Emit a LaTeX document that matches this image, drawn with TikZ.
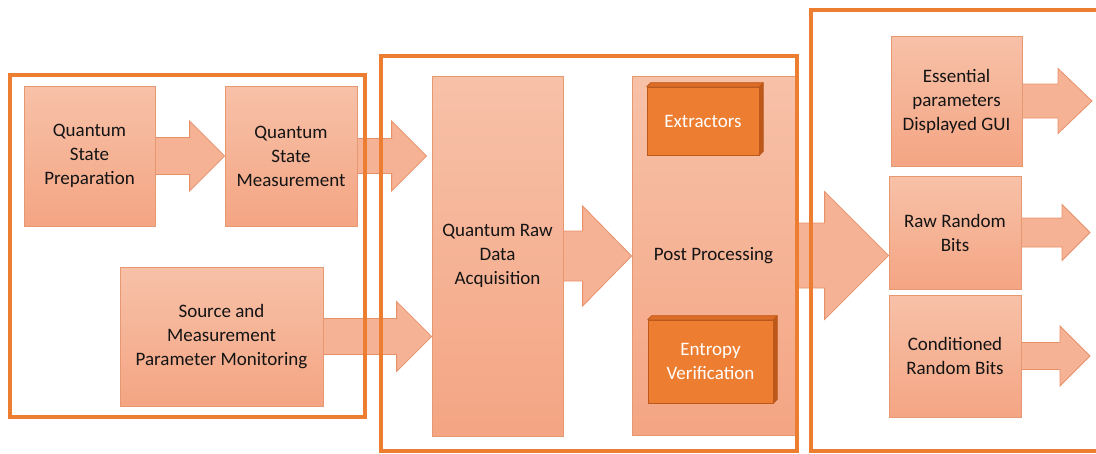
\documentclass[tikz,border=0pt]{standalone}
\usepackage{fontspec}
\setmainfont{Carlito}
\usetikzlibrary{calc}
\definecolor{frameor}{RGB}{237,125,49}
\definecolor{boxtop}{RGB}{247,193,168}
\definecolor{boxbot}{RGB}{244,165,131}
\definecolor{boxline}{RGB}{229,152,114}
\definecolor{arrfill}{RGB}{245,178,148}
\definecolor{arrline}{RGB}{232,145,105}
\definecolor{darkfront}{RGB}{237,125,49}
\definecolor{darktop}{RGB}{222,108,36}
\definecolor{darkside}{RGB}{188,88,26}
\definecolor{txt}{RGB}{20,20,20}
\pgfdeclarelayer{bg}
\pgfsetlayers{bg,main}
\tikzset{
  box/.style={draw=boxline, line width=0.8pt, top color=boxtop, bottom color=boxbot,
    inner sep=0pt, align=center, text=txt, font=\fontsize{19}{24}\selectfont},
  darkbox/.style={fill=darkfront, draw=darkside, line width=0.6pt, inner sep=0pt,
    align=center, text=white, font=\fontsize{19}{24}\selectfont},
  darkface/.style={fill=#1, draw=darkside, line width=0.6pt, line join=round},
  frame/.style={draw=frameor, line width=4pt},
  fat/.style n args={3}{draw=arrline, fill=arrfill, line width=0.8pt, line join=miter,
    to path={let \p1=(\tikztostart), \p2=(\tikztotarget) in
      (\x1,\y1+#1) -- (\x2-#3,\y1+#1) -- (\x2-#3,\y1+#2) -- (\x2,\y1)
      -- (\x2-#3,\y1-#2) -- (\x2-#3,\y1-#1) -- (\x1,\y1-#1) -- cycle}},
}
\begin{document}
\begin{tikzpicture}[x=1pt,y=-1pt]
\useasboundingbox (0,0) rectangle (1096,453);
\clip (0,0) rectangle (1096,453);

% boxes
\node[box, minimum width=131, minimum height=140] (qsp) at (89.5,156) {Quantum\\State\\Preparation};
\node[box, minimum width=132, minimum height=140] (qsm) at (291,156) {Quantum\\State\\Measurement};
\node[box, minimum width=203, minimum height=139] (smpm) at (221.5,336.5) {Source and\\Measurement\\Parameter Monitoring};
\node[box, minimum width=131, minimum height=360] (qrda) at (497.5,256) {Quantum Raw\\Data\\Acquisition};
\node[box, minimum width=163, minimum height=359] (pp) at (713.5,255.5) {Post Processing};
\node[box, minimum width=131, minimum height=130] (epdg) at (956.5,101) {Essential\\parameters\\Displayed GUI};
\node[box, minimum width=132, minimum height=113] (rrb) at (955,232.5) {Raw Random\\Bits};
\node[box, minimum width=132, minimum height=122] (crb) at (955,356) {Conditioned\\Random Bits};

% 3D dark boxes
\node[darkbox, minimum width=112, minimum height=68] (ext) at (703,121) {Extractors};
\node[darkbox, minimum width=125, minimum height=83] (ent) at (710.5,361.5) {Entropy\\Verification};
\foreach \n in {ext,ent}{
  \draw[darkface=darktop] (\n.north west) -- ([shift={(4,-4)}]\n.north west)
    -- ([shift={(4,-4)}]\n.north east) -- (\n.north east) -- cycle;
  \draw[darkface=darkside] (\n.north east) -- ([shift={(4,-4)}]\n.north east)
    -- ([shift={(4,-4)}]\n.south east) -- (\n.south east) -- cycle;
}

% free ends
\coordinate (a2end) at ([xshift=-5pt]qsm.east -| qrda.west);
\coordinate (o1) at (1092,101);
\coordinate (o2) at (1090,232.5);
\coordinate (o3) at (1090,356);

% block arrows
\begin{pgfonlayer}{bg}
\draw[fat={18.5pt}{35pt}{35pt}] (qsp.east) to (qsm.west);
\draw[fat={17.5pt}{35pt}{35pt}] (qsm.east) to (a2end);
\draw[fat={18pt}{35pt}{35pt}] (smpm.east) to (smpm.east -| qrda.west);
\draw[fat={25pt}{50pt}{49pt}] (qrda.east) to (pp.west);
\draw[fat={32.5pt}{64pt}{64pt}] (pp.east) to (pp.east -| rrb.west);
\draw[fat={17pt}{32.5pt}{34pt}] (epdg.east) to (o1);
\draw[fat={14.5pt}{28pt}{28pt}] (rrb.east) to (o2);
\draw[fat={13.5pt}{30pt}{30pt}] (crb.east) to (o3);
\end{pgfonlayer}

% frames
\draw[frame] (10,75) rectangle (365,417);
\draw[frame] (381,56) rectangle (797,451);
\draw[frame] (811,10) rectangle (1110,451);
\end{tikzpicture}
\end{document}
